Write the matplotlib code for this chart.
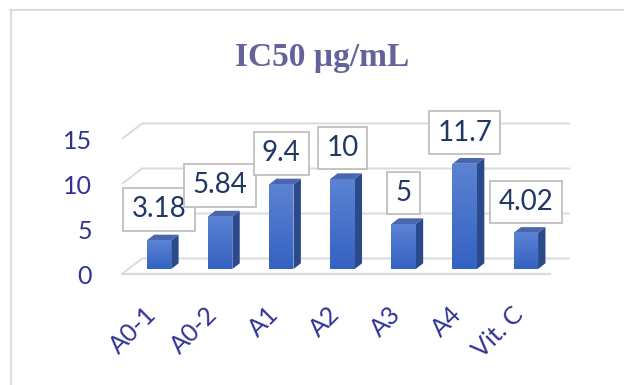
import numpy as np
import matplotlib
matplotlib.use("Agg")
import matplotlib.pyplot as plt
from matplotlib.patches import Polygon
from matplotlib.lines import Line2D
from matplotlib.colors import LinearSegmentedColormap

# ---- data ----
categories = ["A0-1", "A0-2", "A1", "A2", "A3", "A4", "Vit. C"]
ic50_values = [3.18, 5.84, 9.4, 10, 5, 11.7, 4.02]
y_ticks = [0, 5, 10, 15]
title_text = "IC50 µg/mL"

# ---- figure / coordinate frame ----
W, H = 624, 385
fig = plt.figure(figsize=(W / 100, H / 100), dpi=100)
ax = fig.add_axes([0, 0, 1, 1])
ax.set_axis_off()

n = len(categories)
px_left, px_right = 122, 550      # front edge of the floor
px_floor = 274                    # y pixel of value 0 on the front plane
px_per_unit = 9.0
px_per_cat = (px_right - px_left) / n
xlim = (-0.5 - px_left / px_per_cat, -0.5 + (W - px_left) / px_per_cat)
ylim = ((px_floor - H) / px_per_unit, px_floor / px_per_unit)

# oblique depth vector (front -> back) in data units
DX = 20 / px_per_cat
DY = 15.5 / px_per_unit

grid_col = "#D9DBE0"
text_col = "#2F3393"
label_col = "#1F3864"

# ---- walls: gridlines on side wall and back wall ----
for t in y_ticks:
    ax.plot([-0.5, -0.5 + DX, n - 0.5 + DX], [t, t + DY, t + DY],
            color=grid_col, lw=1.4, solid_capstyle="butt", zorder=1)
# floor front edge
ax.plot([-0.5, n - 0.5], [0, 0], color=grid_col, lw=1.6, zorder=1)

# ---- 3D columns ----
front_cmap = LinearSegmentedColormap.from_list("front", ["#3462C2", "#5C83D3"])
side_cmap = LinearSegmentedColormap.from_list("side", ["#213F7E", "#2F4E92"])
d0, d1, hw = 0.32, 0.69, 0.2
ddx, ddy = (d1 - d0) * DX, (d1 - d0) * DY
grad = np.linspace(0, 1, 64).reshape(-1, 1)

for i, v in enumerate(ic50_values):
    x0, x1 = i - hw + d0 * DX, i + hw + d0 * DX
    y0, y1 = d0 * DY, v + d0 * DY

    side = Polygon([(x1, y0), (x1 + ddx, y0 + ddy), (x1 + ddx, y1 + ddy), (x1, y1)],
                   closed=True, facecolor="#2A4A8C", edgecolor="none", zorder=3)
    ax.add_patch(side)
    top = Polygon([(x0, y1), (x1, y1), (x1 + ddx, y1 + ddy), (x0 + ddx, y1 + ddy)],
                  closed=True, facecolor="#4A67AE", edgecolor="none", zorder=3)
    ax.add_patch(top)
    front = Polygon([(x0, y0), (x1, y0), (x1, y1), (x0, y1)],
                    closed=True, facecolor="#4470C8", edgecolor="none", zorder=3)
    ax.add_patch(front)
    im = ax.imshow(grad, extent=(x0, x1, y0, y1), origin="lower", cmap=front_cmap,
                   aspect="auto", zorder=4, interpolation="bilinear")
    im.set_clip_path(front)

    # value label box above the column
    ax.text(i + d0 * DX, y1 + 31 / px_per_unit, f"{v:g}", ha="center", va="center",
            fontsize=20, family="Lato", color=label_col, zorder=6,
            bbox=dict(boxstyle="square,pad=0.3", facecolor="white",
                      edgecolor="#BFBFBF", linewidth=1.3))

# ---- value axis labels ----
for t in y_ticks:
    ax.text(-0.5 + (92 - px_left) / px_per_cat, t - 0.25, f"{t}", ha="right",
            va="center", fontsize=18, family="Lato", color=text_col)

# ---- category labels ----
for i, c in enumerate(categories):
    ax.text(i, (px_floor - 311) / px_per_unit, c, rotation=45, rotation_mode="anchor",
            ha="right", va="center", fontsize=18, family="Lato", color=text_col)

# ---- title ----
fig.text(322 / W, 1 - 66 / H, title_text, ha="center", va="baseline",
         fontsize=24, fontweight="bold", family="Liberation Serif", color="#63639A")

# ---- chart area border (top and left edges) ----
fig.add_artist(Line2D([10 / W, 1], [1 - 10 / H, 1 - 10 / H], transform=fig.transFigure,
                      color="#D9DCE3", lw=1.5))
fig.add_artist(Line2D([11 / W, 11 / W], [0, 1 - 10 / H], transform=fig.transFigure,
                      color="#D9DCE3", lw=1.5))

ax.set_xlim(*xlim)
ax.set_ylim(*ylim)
fig.savefig("out.png", dpi=100)
